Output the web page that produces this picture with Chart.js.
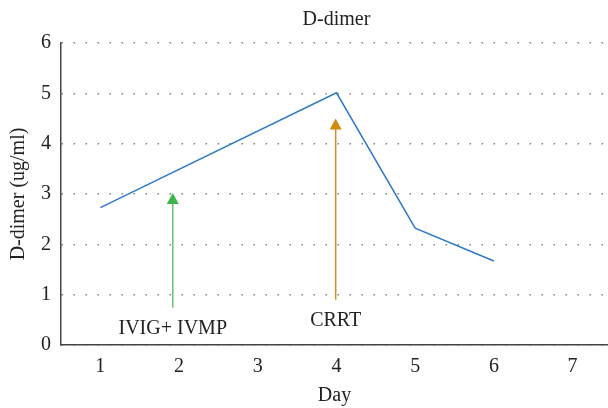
<!DOCTYPE html>
<html>
<head>
<meta charset="utf-8">
<script src="https://cdn.jsdelivr.net/npm/chart.js@4/dist/chart.umd.min.js"></script>
<style>
  html, body { margin: 0; padding: 0; background: #fff; }
  #wrap { width: 608px; height: 408px; }
</style>
</head>
<body>
<div id="wrap"><canvas id="c"></canvas></div>
<script>
const days = [1, 2, 3, 4, 5, 6, 7];
const dimer = [2.73, null, null, 5.01, 2.32, 1.67, null];
const yTicks = [0, 1, 2, 3, 4, 5, 6];

// treatment markers: arrow from/to (in data units) and label
const markerLabels = ['IVIG+ IVMP', 'CRRT'];
const markerDay = [1.92, 3.99];
const markerFrom = [0.74, 0.9];
const markerTo = [3.02, 4.5];
const markerTextY = [0.33, 0.48];
const markerColors = ['#64c46e', '#d28f1f'];
const markerHeadColors = ['#3db54a', '#cf8a12'];

const serif = '"Liberation Serif", "DejaVu Serif", serif';

const arrowPlugin = {
    id: 'arrows',
    afterLayout(chart) {
        // title is centred over the plot area, not the canvas
        const area = chart.chartArea;
        chart.titleBlock.left = area.left;
        chart.titleBlock.right = area.left + (chart.scales.x.getPixelForValue(7.5) - area.left);
    },
    afterDatasetsDraw(chart) {
        const ctx = chart.ctx;
        const xs = chart.scales.x, ys = chart.scales.y;
        markerLabels.forEach((label, i) => {
            const x = xs.getPixelForValue(markerDay[i]);
            const y0 = ys.getPixelForValue(markerFrom[i]);
            const y1 = ys.getPixelForValue(markerTo[i]);
            ctx.save();
            ctx.strokeStyle = markerColors[i];
            ctx.lineWidth = 1.5;
            ctx.beginPath();
            ctx.moveTo(x, y0);
            ctx.lineTo(x, y1 + 8);
            ctx.stroke();
            ctx.fillStyle = markerHeadColors[i];
            ctx.beginPath();
            ctx.moveTo(x, y1);
            ctx.lineTo(x - 6, y1 + 11);
            ctx.lineTo(x + 6, y1 + 11);
            ctx.closePath();
            ctx.fill();
            ctx.fillStyle = '#222';
            ctx.font = '20px ' + serif;
            ctx.textAlign = 'center';
            ctx.textBaseline = 'middle';
            ctx.fillText(label, x, ys.getPixelForValue(markerTextY[i]));
            ctx.restore();
        });
    }
};

new Chart(document.getElementById('c'), {
    type: 'line',
    data: {
        datasets: [{
            data: days.map((d, i) => ({ x: d, y: dimer[i] })),
            borderColor: '#2f78c8',
            borderWidth: 1.5,
            pointRadius: 0,
            spanGaps: true,
            tension: 0,
        }]
    },
    options: {
        responsive: true,
        maintainAspectRatio: false,
        animation: false,
        layout: { padding: 0 },
        plugins: {
            legend: { display: false },
            tooltip: { enabled: false },
            title: {
                display: true,
                text: 'D-dimer',
                color: '#222',
                font: { family: serif, size: 20, weight: 'normal' },
                padding: { top: 8, bottom: 11 },
            },
        },
        scales: {
            x: {
                type: 'linear',
                min: 0.5,
                max: 7.45,
                afterBuildTicks: axis => { axis.ticks = days.map(v => ({ value: v })); },
                afterFit: axis => { axis.height = 63; },
                grid: { display: false, drawTicks: false },
                border: { color: '#444', width: 1.5 },
                ticks: {
                    color: '#222',
                    padding: 10,
                    font: { family: serif, size: 20 },
                },
                title: {
                    display: true,
                    text: 'Day',
                    color: '#222',
                    font: { family: serif, size: 20 },
                    padding: { top: 6, bottom: 0 },
                },
            },
            y: {
                min: 0,
                max: 6,
                afterBuildTicks: axis => { axis.ticks = yTicks.map(v => ({ value: v })); },
                afterFit: axis => { axis.width = 61; },
                grid: {
                    color: '#808080',
                    lineWidth: 1.4,
                    drawTicks: false,
                },
                border: { color: '#444', width: 1.5, dash: [1.5, 10.5] },
                ticks: {
                    color: '#222',
                    padding: 10,
                    font: { family: serif, size: 20 },
                },
                title: {
                    display: true,
                    text: 'D-dimer (ug/ml)',
                    color: '#222',
                    font: { family: serif, size: 20 },
                    padding: { top: 7, bottom: 3 },
                },
            },
        },
    },
    plugins: [arrowPlugin],
});
</script>
</body>
</html>
